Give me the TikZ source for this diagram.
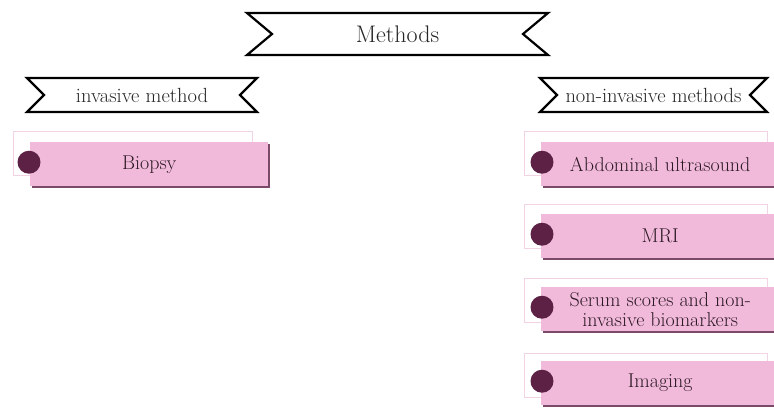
\documentclass[tikz,border=0pt]{standalone}
\usetikzlibrary{shapes.symbols,shadows}
\definecolor{ribbonpink}{HTML}{F2BADA}
\definecolor{shadowmauve}{HTML}{7B4A68}
\definecolor{dotplum}{HTML}{5C2145}
\definecolor{backpink}{HTML}{F2D3E3}
\definecolor{inkplum}{HTML}{2E1A26}

\begin{document}
\begin{tikzpicture}[x=1pt,y=-1pt,banner/.style={draw=black,line width=2.2pt,fill=white,shape=signal,signal to=nowhere,signal from=west and east,signal pointer angle=90,inner sep=0pt,minimum height=34pt,text=black!85,font=\fontsize{20.5}{24}\selectfont},backbox/.style={draw=backpink,line width=0.8pt,fill=white,anchor=north west,minimum width=239pt,minimum height=44pt},itembox/.style={fill=ribbonpink,drop shadow={shadow xshift=2pt,shadow yshift=-2pt,fill=shadowmauve,opacity=1},anchor=north west,minimum width=238pt,minimum height=44pt,inner sep=1pt,align=center,text=inkplum,font=\fontsize{20}{20}\selectfont},dot/.style={circle,fill=dotplum,minimum size=23pt,inner sep=0pt}]
\useasboundingbox (0,0) rectangle (774,408);
% headings
\node[banner,minimum width=301pt,minimum height=42pt,signal pointer angle=80,font=\fontsize{24}{28}\selectfont] (methods) at (397.5,34) {Methods};
\node[banner,minimum width=230pt] (inv) at (142,95) {invasive method};
\node[banner,minimum width=227pt] (noninv) at (653.5,95) {non-invasive methods};
% invasive
\node[backbox] (biopsyback) at (13,131) {};
\node[itembox] (biopsy) at (30,142) {Biopsy};
\node[dot] (biopsydot) at ([yshift=2pt,xshift=-1pt]biopsy.west) {};
% non-invasive
\node[backbox,minimum width=243pt] (usback) at (524,131) {};
\node[itembox] (us) at (541,142) {Abdominal ultrasound};
\node[dot] (usdot) at ([yshift=2pt,xshift=1pt]us.west) {};
\node[backbox,minimum width=243pt] (mriback) at (524,204) {};
\node[itembox] (mri) at (541,214) {MRI};
\node[dot] (mridot) at ([yshift=2pt,xshift=1pt]mri.west) {};
\node[backbox,minimum width=243pt] (serumback) at (524,278) {};
\node[itembox] (serum) at (541,287) {Serum scores and non-\\invasive biomarkers};
\node[dot] (serumdot) at ([yshift=2pt,xshift=1pt]serum.west) {};
\node[backbox,minimum width=243pt] (imgback) at (524,353) {};
\node[itembox] (img) at (541,361) {Imaging};
\node[dot] (imgdot) at ([yshift=2pt,xshift=1pt]img.west) {};
\end{tikzpicture}
\end{document}
